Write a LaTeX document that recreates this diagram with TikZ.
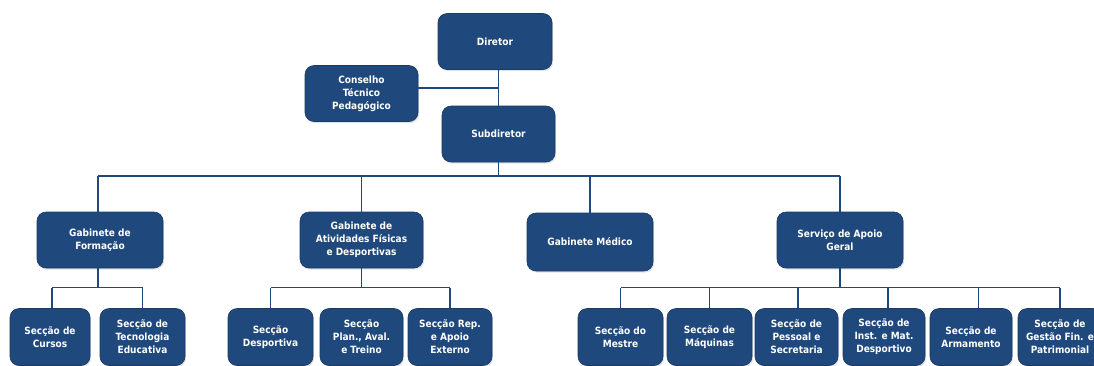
\documentclass[tikz,border=0pt]{standalone}
\usepackage{fontspec}
\setmainfont{DejaVu Sans Condensed}
\usetikzlibrary{shadows}
\definecolor{navy}{RGB}{31,72,124}
\begin{document}
\begin{tikzpicture}[x=1pt,y=-1pt,
  unit/.style={draw=navy!80!black, line width=0.6pt, fill=navy, rounded corners=9pt,
    text=white, font=\bfseries\fontsize{10}{13}\selectfont, align=center,
    inner sep=1pt, drop shadow={opacity=0.22, shadow xshift=1.2pt, shadow yshift=-1.6pt}},
  wide/.style={unit, minimum width=#1, minimum height=56},
  sect/.style={unit, minimum width=#1, minimum height=57},
  link/.style={draw=navy, line width=1.4pt}]
\useasboundingbox (0,0) rectangle (1094,365);
\clip (0,0) rectangle (1094,365);

% top of the chart
\node[wide=114] (dir) at (495,41.5) {Diretor};
\node[wide=113] (cons) at (361.5,93.5) {Conselho\\Técnico\\Pedagógico};
\node[wide=113] (sub) at (498.5,134) {Subdiretor};

% second level
\node[wide=126] (gf) at (100,240) {Gabinete de\\Formação};
\node[wide=123] (ga) at (361.5,240) {Gabinete de\\Atividades Físicas\\e Desportivas};
\node[wide=126, minimum height=58] (gm) at (590,242) {Gabinete Médico};
\node[wide=126] (sa) at (840,240) {Serviço de Apoio\\Geral};

% sections
\node[sect=80] (sc) at (50,337) {Secção de\\Cursos};
\node[sect=85] (st) at (142.5,337) {Secção de\\Tecnologia\\Educativa};
\node[sect=85] (sd) at (270.5,337) {Secção\\Desportiva};
\node[sect=83] (sp) at (361.5,337) {Secção\\Plan., Aval.\\e Treino};
\node[sect=84] (sr) at (450,337) {Secção Rep.\\e Apoio\\Externo};
\node[sect=85] (sm) at (620.5,337) {Secção do\\Mestre};
\node[sect=85] (sq) at (709.5,337) {Secção de\\Máquinas};
\node[sect=83] (ps) at (796.5,337) {Secção de\\Pessoal e\\Secretaria};
\node[sect=82] (si) at (884,337) {Secção de\\Inst. e Mat.\\Desportivo};
\node[sect=82] (sar) at (971,337) {Secção de\\Armamento};
\node[sect=84] (sg) at (1060,337) {Secção de\\Gestão Fin. e\\Patrimonial};

% heights of the horizontal bus lines
\coordinate (busA) at (0,176);
\coordinate (busB) at (0,287.5);

% trunk and council
\draw[link] (sub.north) -- (sub.north |- dir.south);
\draw[link] ([yshift=5.5pt]cons.east) -- ([yshift=5.5pt]cons.east -| sub.north);

% subdirector to second level
\draw[link] (sub.south) -- (sub.south |- busA);
\draw[link] ([xshift=-2pt]gf.north |- busA) -- (sa.north |- busA);
\draw[link] ([xshift=-2pt]gf.north) -- ([xshift=-2pt]gf.north |- busA);
\draw[link] (ga.north) -- (ga.north |- busA);
\draw[link] (gm.north) -- (gm.north |- busA);
\draw[link] (sa.north) -- (sa.north |- busA);

% Gabinete de Formação sections
\draw[link] ([xshift=-2pt]gf.south) -- ([xshift=-2pt]gf.south |- busB);
\draw[link] ([xshift=2pt]sc.north |- busB) -- (st.north |- busB);
\draw[link] ([xshift=2pt]sc.north) -- ([xshift=2pt]sc.north |- busB);
\draw[link] (st.north) -- (st.north |- busB);

% Gabinete de Atividades sections
\draw[link] (ga.south) -- (ga.south |- busB);
\draw[link] (sd.north |- busB) -- (sr.north |- busB);
\draw[link] (sd.north) -- (sd.north |- busB);
\draw[link] (sr.north) -- (sr.north |- busB);

% Serviço de Apoio Geral sections
\draw[link] (sa.south) -- (sa.south |- busB);
\draw[link] (sm.north |- busB) -- (sg.north |- busB);
\draw[link] (sm.north) -- (sm.north |- busB);
\draw[link] (sq.north) -- (sq.north |- busB);
\draw[link] ([xshift=1.5pt]ps.north) -- ([xshift=1.5pt]ps.north |- busB);
\draw[link] ([xshift=4pt]si.north) -- ([xshift=4pt]si.north |- busB);
\draw[link] ([xshift=7.5pt]sar.north) -- ([xshift=7.5pt]sar.north |- busB);
\draw[link] (sg.north) -- (sg.north |- busB);
\end{tikzpicture}
\end{document}
